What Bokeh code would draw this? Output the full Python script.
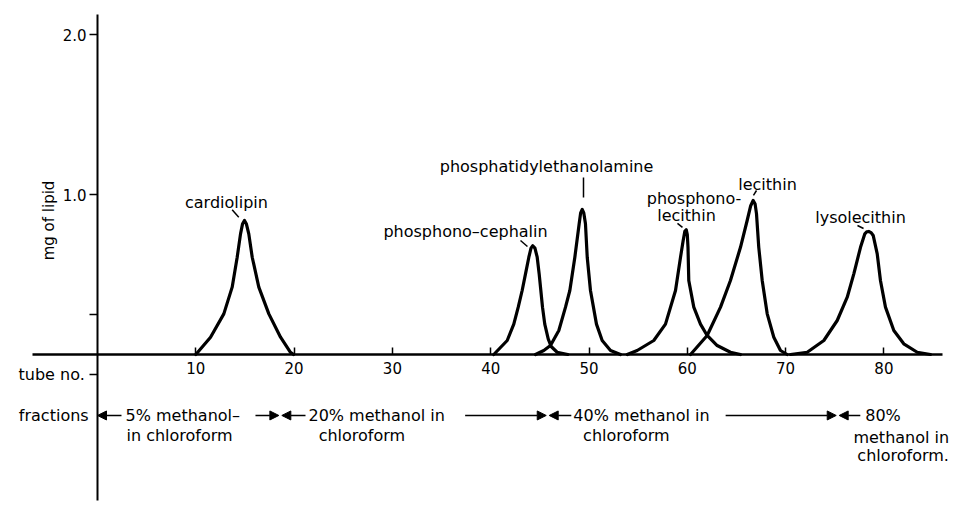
import math
from bokeh.plotting import figure
from bokeh.models import LinearAxis, FixedTicker, Range1d, Arrow, NormalHead
from bokeh.embed import file_html
from bokeh.resources import INLINE
from bokeh.core.properties import value

# ---------------- data ----------------
cardiolipin_x = [10.0, 11.5, 12.85, 13.7, 14.21, 14.55, 14.75, 14.95, 15.15, 15.39, 15.74, 16.41, 17.43, 18.62, 19.63, 19.94]
cardiolipin_y = [0.0, 0.108, 0.254, 0.421, 0.608, 0.754, 0.815, 0.838, 0.815, 0.754, 0.608, 0.421, 0.254, 0.108, 0.014, 0.0]

cephalin_x = [40.31, 41.68, 42.35, 42.8, 43.2, 43.54, 43.88, 44.1, 44.28, 44.5, 44.73, 44.93, 45.1, 45.27, 45.5, 45.85, 46.15, 46.76, 47.84]
cephalin_y = [0.0, 0.0875, 0.19, 0.296, 0.4, 0.504, 0.608, 0.665, 0.68, 0.665, 0.608, 0.504, 0.4, 0.296, 0.19, 0.098, 0.05, 0.014, 0.0]

pe_x = [44.56, 45.4, 46.08, 46.93, 47.61, 48.05, 48.56, 49.0, 49.15, 49.31, 49.47, 49.64, 49.82, 50.15, 50.76, 51.34, 52.19, 53.2]
pe_y = [0.0, 0.025, 0.056, 0.15, 0.296, 0.4, 0.608, 0.817, 0.885, 0.906, 0.885, 0.817, 0.608, 0.4, 0.19, 0.0875, 0.025, 0.0]

phosphonolecithin_x = [53.89, 54.9, 56.59, 57.78, 58.8, 59.31, 59.58, 59.75, 59.89, 60.0, 60.07, 60.15, 60.66, 61.34, 62.02, 63.04, 64.39, 65.41]
phosphonolecithin_y = [0.0, 0.025, 0.0875, 0.19, 0.4, 0.608, 0.7125, 0.77, 0.78, 0.75, 0.67, 0.4625, 0.296, 0.19, 0.119, 0.056, 0.014, 0.0]

lecithin_x = [60.33, 62.02, 63.38, 64.39, 65.41, 66.09, 66.45, 66.7, 66.9, 67.04, 67.27, 67.62, 68.13, 68.8, 69.48, 70.16]
lecithin_y = [0.0, 0.119, 0.296, 0.4625, 0.67, 0.8375, 0.93, 0.9625, 0.94, 0.879, 0.67, 0.4625, 0.254, 0.108, 0.025, 0.0]

lysolecithin_x = [70.5, 72.2, 73.89, 75.25, 76.27, 76.94, 77.62, 78.06, 78.25, 78.46, 78.7, 78.91, 79.32, 79.65, 80.16, 81.01, 82.02, 83.39, 84.74]
lysolecithin_y = [0.0, 0.014, 0.0875, 0.2125, 0.358, 0.504, 0.67, 0.754, 0.767, 0.769, 0.762, 0.744, 0.629, 0.4625, 0.296, 0.15, 0.067, 0.014, 0.0]

tube_ticks = [10, 20, 30, 40, 50, 60, 70, 80]
mg_ticks = [-0.125, 0.25, 1.0, 2.0]
mg_tick_labels = ["", "", "1.0", "2.0"]
tube_label = "tube no."

peak_labels = ["cardiolipin", "phosphono\u2013cephalin", "phosphatidylethanolamine",
               "phosphono-", "lecithin", "lecithin", "lysolecithin"]
peak_label_x = [13.12, 37.44, 45.68, 60.68, 59.92, 68.16, 77.62]
peak_label_y = [0.95, 0.769, 1.175, 0.975, 0.869, 1.0625, 0.856]

leader_x0 = [13.70, 43.03, 49.44, 59.0, 67.04, 77.31]
leader_y0 = [0.904, 0.7125, 1.106, 0.819, 1.025, 0.806]
leader_x1 = [14.37, 43.74, 49.44, 59.51, 66.73, 77.93]
leader_y1 = [0.858, 0.675, 0.981, 0.794, 0.994, 0.7875]

fraction_bounds = [0.0, 18.6, 45.8, 75.3]
fraction_texts = ["5% methanol\u2013", "in chloroform", "20% methanol in", "chloroform",
                  "40% methanol in", "chloroform", "80%", "methanol in", "chloroform."]
fraction_text_x = [2.85, 2.95, 21.46, 22.5, 48.4, 49.4, 78.1, 76.9, 77.3]
fraction_text_y = [-0.381, -0.506, -0.381, -0.506, -0.381, -0.506, -0.381, -0.519, -0.631]

# arrows: tail -> tip (tip at a fraction boundary)
arrow_tail_x = [2.44, 16.07, 21.16, 37.4, 48.2, 63.9, 77.6]
arrow_tip_x = [0.0, 18.45, 18.75, 45.65, 45.95, 75.15, 75.45]
arrow_y = -0.381

# ---------------- figure ----------------
FONT = "DejaVu Sans"
p = figure(width=958, height=508,
           x_range=Range1d(-9.868, 87.589), y_range=Range1d(-0.9625, 2.2125),
           output_backend="svg", toolbar_location=None,
           x_axis_type=None, y_axis_type=None, min_border=0)
p.outline_line_color = None
p.background_fill_color = "white"
p.border_fill_color = "white"

xaxis = LinearAxis(ticker=FixedTicker(ticks=tube_ticks), fixed_location=0,
                   bounds=(-6.61, 85.96),
                   major_tick_in=7, major_tick_out=0, minor_tick_in=0, minor_tick_out=0,
                   axis_line_width=2.5, axis_line_color="black",
                   major_tick_line_width=1.5, major_tick_line_color="black",
                   major_label_standoff=7,
                   major_label_text_font=FONT, major_label_text_font_size="15px",
                   major_label_text_color="black")
p.add_layout(xaxis, "below")

yaxis = LinearAxis(ticker=FixedTicker(ticks=mg_ticks), fixed_location=0,
                   bounds=(-0.9125, 2.125),
                   major_tick_in=0, major_tick_out=8, minor_tick_in=0, minor_tick_out=0,
                   axis_line_width=2, axis_line_color="black",
                   major_tick_line_width=1.5, major_tick_line_color="black",
                   major_label_standoff=3,
                   major_label_overrides={t: l for t, l in zip(mg_ticks, mg_tick_labels)},
                   major_label_text_font=FONT, major_label_text_font_size="15px",
                   major_label_text_color="black")
p.add_layout(yaxis, "left")

for xs, ys in [(cardiolipin_x, cardiolipin_y), (cephalin_x, cephalin_y), (pe_x, pe_y),
               (phosphonolecithin_x, phosphonolecithin_y), (lecithin_x, lecithin_y),
               (lysolecithin_x, lysolecithin_y)]:
    p.line(xs, ys, line_color="black", line_width=3.2, line_join="round", line_cap="round")

p.segment(x0=leader_x0, y0=leader_y0, x1=leader_x1, y1=leader_y1,
          line_color="black", line_width=1.5)

p.text(x=peak_label_x, y=peak_label_y, text=peak_labels,
       text_font=value(FONT), text_font_size="16px", text_color="black",
       text_align="center", text_baseline="middle")

p.text(x=[-4.98], y=[0.8375], text=["mg of lipid"], angle=math.pi / 2,
       text_font=value(FONT), text_font_size="15px", text_color="black",
       text_align="center", text_baseline="middle")

p.text(x=[-1.3], y=[mg_ticks[0]], text=[tube_label],
       text_font=value(FONT), text_font_size="16px", text_color="black",
       text_align="right", text_baseline="middle")

p.text(x=[-0.9], y=[-0.381], text=["fractions"],
       text_font=value(FONT), text_font_size="16px", text_color="black",
       text_align="right", text_baseline="middle")

p.text(x=fraction_text_x, y=fraction_text_y, text=fraction_texts,
       text_font=value(FONT), text_font_size="16px", text_color="black",
       text_align="left", text_baseline="middle")

for xt, xh in zip(arrow_tail_x, arrow_tip_x):
    p.add_layout(Arrow(end=NormalHead(size=9, line_color="black", fill_color="black"),
                       x_start=xt, y_start=arrow_y, x_end=xh, y_end=arrow_y,
                       line_color="black", line_width=1.5))

open("out.html", "w").write(file_html(p, INLINE))
